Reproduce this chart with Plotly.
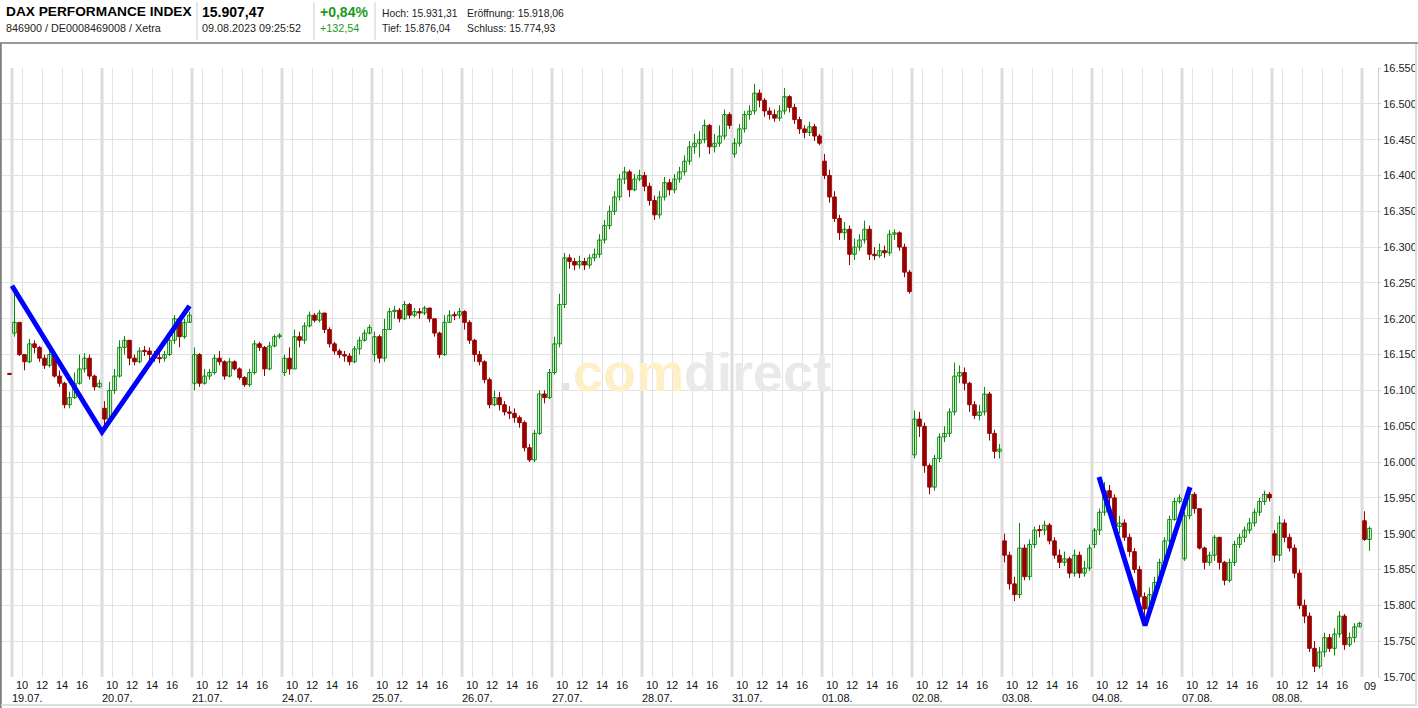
import plotly.graph_objects as go

# ---------------- data ----------------
day_labels = ["19.07.", "20.07.", "21.07.", "24.07.", "25.07.", "26.07.", "27.07.",
              "28.07.", "31.07.", "01.08.", "02.08.", "03.08.", "04.08.", "07.08.", "08.08."]
hour_ticks = [10, 12, 14, 16]

# opening value of each day (30-minute candles, 9:00 - 18:00)
day_open = [16180, 16075, 16110, 16125, 16150, 16210, 16125, 16400,
            16430, 16420, 16010, 15890, 15885, 15865, 15900]

# closes
c_1907 = [16195, 16150, 16140, 16165, 16160, 16145, 16135, 16150, 16120,
          16110, 16080, 16090, 16110, 16130, 16145, 16120, 16105, 16110]
c_2007 = [16060, 16100, 16120, 16160, 16170, 16145, 16140, 16155, 16155,
          16150, 16145, 16145, 16150, 16170, 16200, 16175, 16195, 16205]
c_2107 = [16150, 16110, 16120, 16125, 16145, 16140, 16120, 16140, 16130,
          16118, 16108, 16125, 16165, 16160, 16130, 16162, 16175, 16177]
c_2407 = [16145, 16130, 16175, 16170, 16190, 16205, 16198, 16208, 16185,
          16165, 16155, 16150, 16148, 16140, 16158, 16170, 16180, 16188]
c_2507 = [16175, 16145, 16185, 16210, 16212, 16200, 16220, 16205, 16210,
          16208, 16215, 16200, 16180, 16150, 16195, 16205, 16205, 16210]
c_2607 = [16195, 16170, 16150, 16140, 16115, 16080, 16090, 16080, 16070,
          16068, 16062, 16055, 16020, 16003, 16040, 16095, 16090, 16125]
c_2707 = [16165, 16220, 16285, 16280, 16275, 16280, 16275, 16285, 16290,
          16310, 16330, 16350, 16370, 16395, 16405, 16380, 16395, 16400]
c_2807 = [16385, 16365, 16345, 16370, 16390, 16380, 16395, 16405, 16420,
          16440, 16445, 16450, 16470, 16440, 16445, 16455, 16485, 16470]
c_3107 = [16445, 16465, 16485, 16490, 16515, 16505, 16490, 16485, 16480,
          16490, 16510, 16495, 16478, 16465, 16460, 16468, 16455, 16445]
c_0108 = [16400, 16370, 16340, 16320, 16325, 16290, 16300, 16310, 16325,
          16290, 16288, 16295, 16292, 16318, 16320, 16300, 16265, 16238]
c_0208 = [16060, 16050, 15995, 15965, 16005, 16035, 16040, 16070, 16120,
          16125, 16110, 16080, 16065, 16070, 16095, 16040, 16015, 16018]
c_0308 = [15870, 15830, 15815, 15880, 15840, 15885, 15905, 15905, 15912,
          15890, 15870, 15860, 15865, 15845, 15870, 15845, 15852, 15880]
c_0408 = [15905, 15930, 15960, 15950, 15910, 15915, 15895, 15875, 15850,
          15812, 15795, 15815, 15832, 15860, 15890, 15920, 15945, 15950]
c_0708 = [15925, 15955, 15935, 15880, 15860, 15870, 15895, 15860, 15835,
          15860, 15885, 15895, 15905, 15915, 15930, 15945, 15955, 15950]
c_0808 = [15870, 15915, 15895, 15880, 15845, 15800, 15785, 15740, 15715,
          15735, 15755, 15740, 15760, 15785, 15745, 15755, 15770, 15774.93]

# highs
h_1907 = [16240, 16190, 16150, 16172, 16170, 16162, 16150, 16155, 16155,
          16128, 16112, 16098, 16125, 16150, 16152, 16150, 16122, 16115]
h_2007 = [16085, 16112, 16130, 16170, 16176, 16170, 16150, 16160, 16162,
          16160, 16155, 16152, 16155, 16172, 16205, 16200, 16200, 16210]
h_2107 = [16160, 16152, 16130, 16130, 16150, 16155, 16142, 16145, 16142,
          16132, 16120, 16130, 16170, 16168, 16162, 16168, 16178, 16180]
h_2407 = [16150, 16160, 16185, 16182, 16195, 16210, 16208, 16212, 16208,
          16188, 16168, 16158, 16155, 16152, 16162, 16175, 16185, 16192]
h_2507 = [16182, 16178, 16200, 16215, 16218, 16215, 16225, 16222, 16215,
          16215, 16218, 16215, 16200, 16182, 16205, 16212, 16210, 16215]
h_2607 = [16212, 16198, 16172, 16155, 16142, 16118, 16100, 16098, 16085,
          16078, 16075, 16065, 16058, 16025, 16045, 16100, 16100, 16130]
h_2707 = [16175, 16235, 16292, 16290, 16285, 16288, 16285, 16290, 16298,
          16318, 16338, 16358, 16378, 16402, 16412, 16408, 16402, 16408]
h_2807 = [16405, 16390, 16372, 16378, 16398, 16395, 16402, 16412, 16428,
          16448, 16458, 16462, 16478, 16472, 16458, 16470, 16492, 16488]
h_3107 = [16452, 16472, 16490, 16498, 16528, 16520, 16508, 16495, 16492,
          16498, 16522, 16512, 16500, 16482, 16470, 16475, 16472, 16458]
h_0108 = [16430, 16408, 16378, 16345, 16335, 16330, 16312, 16318, 16337,
          16330, 16300, 16305, 16302, 16324, 16325, 16322, 16305, 16268]
h_0208 = [16072, 16070, 16055, 15998, 16010, 16040, 16050, 16075, 16139,
          16135, 16132, 16112, 16085, 16080, 16105, 16098, 16045, 16025]
h_0308 = [15900, 15875, 15840, 15915, 15885, 15892, 15910, 15912, 15918,
          15915, 15895, 15878, 15875, 15868, 15878, 15875, 15862, 15885]
h_0408 = [15908, 15935, 15972, 15968, 15955, 15925, 15920, 15900, 15880,
          15855, 15818, 15825, 15840, 15865, 15895, 15925, 15950, 15955]
h_0708 = [15930, 15962, 15958, 15935, 15882, 15875, 15898, 15895, 15862,
          15865, 15890, 15900, 15910, 15922, 15935, 15950, 15960, 15958]
h_0808 = [15905, 15925, 15920, 15900, 15885, 15850, 15808, 15790, 15750,
          15742, 15762, 15760, 15768, 15792, 15788, 15762, 15775, 15777]

# lows
l_1907 = [16175, 16148, 16128, 16138, 16152, 16140, 16130, 16132, 16118,
          16105, 16075, 16075, 16088, 16108, 16125, 16115, 16100, 16103]
l_2007 = [16045, 16058, 16095, 16118, 16150, 16135, 16135, 16138, 16148,
          16142, 16140, 16138, 16140, 16148, 16165, 16160, 16172, 16195]
l_2107 = [16100, 16105, 16108, 16115, 16122, 16135, 16115, 16118, 16128,
          16115, 16105, 16105, 16122, 16155, 16120, 16128, 16160, 16172]
l_2407 = [16120, 16122, 16130, 16160, 16165, 16188, 16195, 16195, 16180,
          16160, 16150, 16145, 16140, 16135, 16138, 16150, 16168, 16178]
l_2507 = [16140, 16138, 16140, 16185, 16200, 16195, 16198, 16200, 16202,
          16200, 16205, 16195, 16175, 16145, 16148, 16195, 16198, 16200]
l_2607 = [16185, 16165, 16140, 16135, 16110, 16075, 16078, 16072, 16065,
          16060, 16055, 16048, 16015, 16000, 16000, 16038, 16082, 16088]
l_2707 = [16122, 16160, 16215, 16270, 16268, 16270, 16268, 16270, 16280,
          16285, 16305, 16325, 16345, 16365, 16388, 16370, 16378, 16392]
l_2807 = [16378, 16358, 16338, 16340, 16365, 16372, 16375, 16390, 16400,
          16415, 16430, 16425, 16445, 16430, 16432, 16440, 16450, 16465]
l_3107 = [16425, 16440, 16460, 16478, 16485, 16495, 16482, 16478, 16475,
          16476, 16485, 16488, 16472, 16458, 16452, 16455, 16448, 16442]
l_0108 = [16395, 16362, 16335, 16310, 16310, 16275, 16282, 16295, 16305,
          16282, 16282, 16285, 16285, 16288, 16310, 16295, 16258, 16235]
l_0208 = [16005, 16035, 15985, 15955, 15960, 16000, 16028, 16035, 16065,
          16110, 16100, 16070, 16060, 16058, 16065, 16030, 16005, 16005]
l_0308 = [15860, 15822, 15806, 15810, 15835, 15835, 15880, 15895, 15898,
          15885, 15865, 15852, 15855, 15838, 15840, 15838, 15840, 15848]
l_0408 = [15880, 15898, 15925, 15940, 15905, 15900, 15890, 15868, 15845,
          15805, 15780, 15792, 15810, 15828, 15855, 15885, 15918, 15942]
l_0708 = [15862, 15920, 15928, 15878, 15850, 15855, 15862, 15850, 15828,
          15832, 15855, 15880, 15888, 15900, 15910, 15925, 15940, 15945]
l_0808 = [15860, 15862, 15888, 15875, 15838, 15795, 15775, 15735, 15707,
          15712, 15728, 15735, 15730, 15755, 15738, 15742, 15748, 15770]

closes_by_day = [c_1907, c_2007, c_2107, c_2407, c_2507, c_2607, c_2707, c_2807,
                 c_3107, c_0108, c_0208, c_0308, c_0408, c_0708, c_0808]
highs_by_day = [h_1907, h_2007, h_2107, h_2407, h_2507, h_2607, h_2707, h_2807,
                h_3107, h_0108, h_0208, h_0308, h_0408, h_0708, h_0808]
lows_by_day = [l_1907, l_2007, l_2107, l_2407, l_2507, l_2607, l_2707, l_2807,
               l_3107, l_0108, l_0208, l_0308, l_0408, l_0708, l_0808]

prev_close_1807 = 16123

# 09.08. (today, first candles)
o_0908 = [15918.06, 15892]
h_0908 = [15931.31, 15910]
l_0908 = [15890, 15876.04]
c_0908 = [15892, 15907.47]

# drawn trend lines (time as day index + hour, value)
v1_day = [0, 1, 1]
v1_hour = [9.0, 9.0, 17.75]
v1_val = [16246, 16042, 16218]
v2_day = [12, 12, 13]
v2_hour = [9.7, 14.3, 9.8]
v2_val = [15979, 15772, 15965]

y_ticks = list(range(15700, 16551, 50))

# ---------------- helpers ----------------
DAY_W = 9.0         # hours shown per day


def tpos(day, hour):
    return day * DAY_W + (hour - 9.0)


xs, o, h, l, c = [], [], [], [], []
# last candle of the previous day (18.07.)
xs.append(tpos(-1, 17.75)); o.append(prev_close_1807); h.append(prev_close_1807)
l.append(prev_close_1807); c.append(prev_close_1807)
for d, closes in enumerate(closes_by_day):
    prev = day_open[d]
    for k, cl in enumerate(closes):
        xs.append(tpos(d, 9.25 + 0.5 * k))
        o.append(prev); c.append(cl)
        h.append(max(highs_by_day[d][k], prev, cl))
        l.append(min(lows_by_day[d][k], prev, cl))
        prev = cl
for k in range(len(c_0908)):
    xs.append(tpos(15, 9.25 + 0.5 * k))
    o.append(o_0908[k]); h.append(h_0908[k]); l.append(l_0908[k]); c.append(c_0908[k])

GREEN = "#0a8a0a"
RED = "#990000"
FONT = "Arial, Liberation Sans, sans-serif"
BODY_W = 0.36     # candle body width in hours (10 px per hour)
MIN_H = 1.6       # minimum visible body height (index points)

fig = go.Figure()

# wicks (high-low) drawn as thin segments, then bodies as bars
for up in (True, False):
    wx, wy = [], []
    bx, bbase, bh = [], [], []
    for xi, oi, hi, li, ci in zip(xs, o, h, l, c):
        if (ci > oi) != up:
            continue
        if hi > max(oi, ci) or li < min(oi, ci):
            wx += [xi, xi, None]; wy += [li, hi, None]
        lo_b = min(oi, ci)
        hgt = max(abs(ci - oi), MIN_H)
        bx.append(xi); bbase.append(lo_b if abs(ci - oi) >= MIN_H else lo_b - MIN_H / 2); bh.append(hgt)
    col = GREEN if up else RED
    if wx:
        fig.add_trace(go.Scatter(x=wx, y=wy, mode="lines", line=dict(color=col, width=1),
                                 showlegend=False, hoverinfo="skip"))
    fig.add_trace(go.Bar(
        x=bx, y=bh, base=bbase, width=BODY_W,
        marker=dict(color="#ffffff" if up else RED, line=dict(color=col, width=1)),
        showlegend=False, hoverinfo="skip",
    ))

for dd, hh, vv in [(v1_day, v1_hour, v1_val), (v2_day, v2_hour, v2_val)]:
    fig.add_trace(go.Scatter(
        x=[tpos(a, b) for a, b in zip(dd, hh)], y=vv, mode="lines",
        line=dict(color="#0000ff", width=5), showlegend=False, hoverinfo="skip",
    ))

# plot area in pixels
L, R, T, B = 2, 1378, 68, 677
W, H = R - L, B - T


def px(X):
    return (X - L) / W


def py(Y):
    return (B - Y) / H


tickvals = [tpos(d, hr) for d in range(len(day_labels)) for hr in hour_ticks]
ticktext = [str(hr) for d in range(len(day_labels)) for hr in hour_ticks]

shapes = []
# day separators
for d in range(len(day_labels) + 1):
    shapes.append(dict(type="line", xref="x", yref="paper", x0=tpos(d, 9), x1=tpos(d, 9),
                       y0=0, y1=1, line=dict(color="#dcdcdc", width=3), layer="below"))
# frame and header lines
shapes += [
    dict(type="line", xref="paper", yref="paper", x0=px(0), x1=px(1418), y0=py(43), y1=py(43),
         line=dict(color="#9a9a9a", width=2)),
    dict(type="line", xref="paper", yref="paper", x0=px(0.8), x1=px(0.8), y0=py(43), y1=py(708),
         line=dict(color="#808080", width=2)),
    dict(type="line", xref="paper", yref="paper", x0=px(1416), x1=px(1416), y0=py(44), y1=py(706),
         line=dict(color="#dddddd", width=2)),
    dict(type="line", xref="paper", yref="paper", x0=px(1), x1=px(1417), y0=py(705), y1=py(705),
         line=dict(color="#dddddd", width=2)),
]
for sx in [197, 314, 375]:
    shapes.append(dict(type="line", xref="paper", yref="paper", x0=px(sx), x1=px(sx),
                       y0=py(2), y1=py(40), line=dict(color="#cccccc", width=1)))

ann = []
for d, lab in enumerate(day_labels):
    ann.append(dict(x=tpos(d, 9), y=py(698), xref="x", yref="paper", text=lab,
                    showarrow=False, xanchor="left", yanchor="middle", xshift=-2,
                    font=dict(family=FONT, size=11, color="#111")))
ann.append(dict(x=tpos(15, 9), y=py(686), xref="x", yref="paper", text="09",
                showarrow=False, xanchor="left", yanchor="middle", xshift=0,
                font=dict(family=FONT, size=11, color="#111")))


def head(X, Y, text, size, color="#000", bold=False):
    t = f"<b>{text}</b>" if bold else text
    ann.append(dict(x=px(X), y=py(Y), xref="paper", yref="paper", text=t, showarrow=False,
                    xanchor="left", yanchor="middle",
                    font=dict(family=FONT, size=size, color=color)))


head(4, 12, "DAX PERFORMANCE INDEX", 13.7, bold=True)
head(4, 28, "846900 / DE0008469008 / Xetra", 10.8, "#222")
head(200, 12, "15.907,47", 14, bold=True)
head(200, 28, "09.08.2023 09:25:52", 10.8, "#222")
head(318, 12, "+0,84%", 14, "#1a9a1a", bold=True)
head(318, 28, "+132,54", 10.8, "#1a9a1a")
head(380, 13, "Hoch: 15.931,31", 10.3, "#222")
head(465, 13, "Eröffnung: 15.918,06", 10.4, "#222")
head(380, 28, "Tief: 15.876,04", 10.3, "#222")
head(465, 28, "Schluss: 15.774,93", 10.4, "#222")

# watermark
ann.append(dict(x=px(695), y=py(372), xref="paper", yref="paper", showarrow=False,
                text=("<b><span style='color:#e3e3e3'>.</span>"
                      "<span style='color:#fdefc6'>com</span>"
                      "<span style='color:#e9e9e9'>direct</span></b>"),
                font=dict(family=FONT, size=54), xanchor="center", yanchor="middle"))

fig.update_layout(
    width=1418, height=708,
    margin=dict(l=L, r=1418 - R, t=T, b=708 - B, pad=0),
    paper_bgcolor="#ffffff", plot_bgcolor="#ffffff",
    barmode="overlay",
    shapes=shapes, annotations=ann,
    font=dict(family=FONT, size=11, color="#111"),
    xaxis=dict(range=[tpos(-1, 17.0), tpos(-1, 17.0) + W / 10.0],
               tickmode="array", tickvals=tickvals, ticktext=ticktext,
               showgrid=True, gridcolor="#e2e2e2", gridwidth=1,
               ticks="", tickfont=dict(family=FONT, size=11, color="#111"),
               showline=False, zeroline=False, fixedrange=True),
    yaxis=dict(range=[15700, 16550], side="right",
               tickmode="array", tickvals=y_ticks,
               ticktext=[f"{v // 1000}.{v % 1000:03d}" for v in y_ticks],
               showgrid=True, gridcolor="#e2e2e2", gridwidth=1,
               ticks="outside", ticklen=2, tickcolor="#d0d0d0",
               showline=True, linecolor="#d0d0d0", linewidth=1,
               tickfont=dict(family=FONT, size=11, color="#222"),
               zeroline=False, fixedrange=True),
)

fig.write_html("out.html", config={"displayModeBar": False},
               post_script="document.body.style.margin='0';document.body.style.overflow='hidden';")
